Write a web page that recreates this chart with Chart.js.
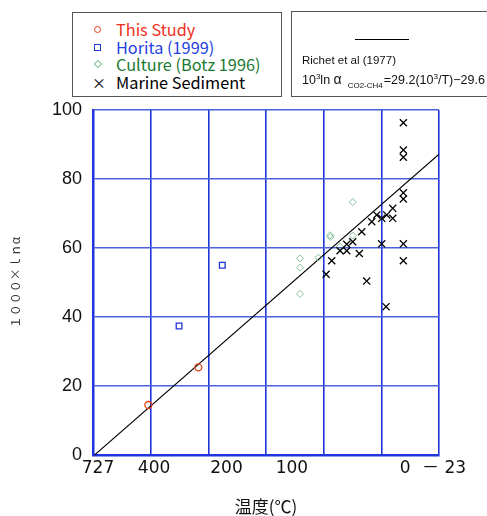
<!DOCTYPE html>
<html>
<head>
<meta charset="utf-8">
<script src="https://cdn.jsdelivr.net/npm/chart.js@4.4.1/dist/chart.umd.min.js"></script>
<style>
  html, body { margin: 0; padding: 0; background: #fff; }
  #wrap { position: relative; width: 487px; height: 516px; overflow: hidden; }
  #c { position: absolute; left: 0; top: 0; }
  .box { position: absolute; border: 1.5px solid #555; background: #fff; box-sizing: border-box; }
  #legA { left: 72px; top: 12px; width: 210px; height: 85px; font: 16.3px "Noto Sans CJK JP", sans-serif; }
  #legA .row { position: absolute; left: 0; height: 18px; line-height: 18px; white-space: nowrap; }
  #legA .mk { position: absolute; left: 21px; top: 6px; width: 7px; height: 7px; box-sizing: border-box; }
  #legA .tx { position: absolute; left: 43px; top: 0; }
  #legB { left: 291px; top: 11px; width: 210px; height: 86px; font: 11.5px "Liberation Sans", Arial, sans-serif; color: #111; }
  #legB .ln { position: absolute; left: 63px; top: 27px; width: 54px; border-top: 1.2px solid #000; }
  #legB .t1 { position: absolute; left: 10px; top: 42px; white-space: nowrap; }
  #legB .t2 { position: absolute; left: 10px; top: 59px; white-space: nowrap; font-size: 12.5px; }
  #legB .al { font-size: 14px; }
  #legB sup { font-size: 8px; vertical-align: 5px; }
  #legB sub { font-size: 8px; vertical-align: -4px; margin: 0 1px 0 6px; }
</style>
</head>
<body>
<div id="wrap">
  <canvas id="c" width="487" height="516"></canvas>
  <div id="legA" class="box"></div>
  <div id="legB" class="box">
    <div class="ln"></div>
    <div class="t1">Richet et al (1977)</div>
    <div class="t2">10<sup>3</sup>ln <span class="al">α</span><sub>CO2-CH4</sub>=29.2(10<sup>3</sup>/T)−29.6</div>
  </div>
</div>
<script>
// ---- data (x = 10^3/T, y = 1000 ln α) ----
const studyX = [1.480, 1.913];
const studyY = [14.5, 25.4];

const horitaX = [1.746, 2.121];
const horitaY = [37.4, 55.0];

const cultureX = [3.252, 3.055, 3.058, 3.252, 3.142, 2.954, 2.795, 2.795, 2.795];
const cultureY = [73.3, 63.7, 63.2, 63.6, 60.4, 57.2, 57.0, 54.3, 46.7];

const marineX = [3.691, 3.691, 3.691, 3.691, 3.691, 3.599, 3.460, 3.547, 3.504, 3.599, 3.417, 3.330,
                 3.252, 3.200, 3.503, 3.691, 3.142, 3.200, 3.309, 3.070, 3.691, 3.021, 3.373, 3.541];
const marineY = [96.3, 88.4, 86.3, 76.0, 74.2, 71.5, 69.6, 69.6, 68.6, 68.6, 67.6, 64.7,
                 61.8, 61.1, 61.2, 61.2, 59.2, 59.2, 58.4, 56.3, 56.3, 52.4, 50.4, 43.0];

// Richet et al (1977) line end points
const richetX = [1.0, 4.0];
const richetY = [-0.4, 87.2];

// axes
const gridX = [1.0, 1.5, 2.0, 2.5, 3.0, 3.5, 4.0];
const tempTicks = [727, 400, 200, 100, 0, -23];
const tempLabels = ['727', '400', '200', '100', '0', '－ 23'];
const yTicks = [0, 20, 40, 60, 80, 100];

const zip = (xs, ys) => xs.map((x, i) => ({ x, y: ys[i] }));
const near = (a, b) => Math.abs(a - b) < 1e-6;

const BLUE_V = '#1f35dc';
const BLUE_H = '#4a63dc';

const series = [
  { label: 'This Study',          xs: studyX,   ys: studyY,   style: 'circle',  color: '#e8401c', text: '#f0301a', r: 3.5 },
  { label: 'Horita (1999)',       xs: horitaX,  ys: horitaY,  style: 'rect',    color: '#1f35d8', text: '#1f3fe0', r: 4 },
  { label: 'Culture (Botz 1996)', xs: cultureX, ys: cultureY, style: 'rectRot', color: '#86c29a', text: '#1b7a32', r: 3.5 },
  { label: 'Marine Sediment',     xs: marineX,  ys: marineY,  style: 'crossRot',color: '#000000', text: '#000000', r: 5 },
];

// html legend built from the series list
const legA = document.getElementById('legA');
series.forEach((s, i) => {
  const row = document.createElement('div');
  row.className = 'row';
  row.style.top = (7 + i * 17.5) + 'px';
  const mk = document.createElement('span');
  mk.className = 'mk';
  if (s.style === 'circle') {
    mk.style.border = '1.5px solid ' + s.color; mk.style.borderRadius = '50%';
  } else if (s.style === 'rect') {
    mk.style.border = '1.5px solid ' + s.color;
  } else if (s.style === 'rectRot') {
    mk.style.border = '1px solid ' + s.color; mk.style.width = '6px'; mk.style.height = '6px';
    mk.style.transform = 'rotate(45deg)'; mk.style.left = '21.5px';
  } else {
    mk.textContent = '×'; mk.style.color = s.color; mk.style.top = '0'; mk.style.left = '19px';
    mk.style.width = 'auto'; mk.style.height = 'auto'; mk.style.fontSize = '14px';
  }
  const tx = document.createElement('span');
  tx.className = 'tx';
  tx.style.color = s.text;
  tx.textContent = s.label;
  row.appendChild(mk);
  row.appendChild(tx);
  legA.appendChild(row);
});

const datasets = series.map((s, i) => ({
  type: 'scatter',
  label: s.label,
  data: zip(s.xs, s.ys),
  pointStyle: s.style,
  pointRadius: s.r,
  pointHoverRadius: s.r,
  borderColor: s.color,
  backgroundColor: 'rgba(0,0,0,0)',
  borderWidth: s.style === 'rectRot' ? 1 : 1.3,
  order: 4 - i,
}));
datasets.push({
  type: 'line',
  label: 'Richet et al (1977)',
  data: zip(richetX, richetY),
  borderColor: '#000',
  borderWidth: 1.1,
  pointRadius: 0,
  fill: false,
  order: 10,
});

// x ticks: grid positions plus temperature labels (10^3/T with T = t + 273)
function buildXTicks() {
  const ticks = gridX.map(v => ({ value: v, grid: true, label: '' }));
  tempTicks.forEach((t, i) => {
    const v = 1000 / (t + 273);
    const hit = ticks.find(k => near(k.value, v));
    if (hit) hit.label = tempLabels[i];
    else ticks.push({ value: v, grid: false, label: tempLabels[i] });
  });
  return ticks.sort((a, b) => a.value - b.value);
}
const xTickInfo = buildXTicks();

new Chart(document.getElementById('c'), {
  data: { datasets },
  options: {
    responsive: false,
    animation: false,
    devicePixelRatio: 1,
    layout: { padding: { top: 110, right: 48, left: 0, bottom: 0 } },
    plugins: { legend: { display: false }, tooltip: { enabled: false } },
    scales: {
      x: {
        type: 'linear',
        min: 1, max: 4,
        afterBuildTicks: s => { s.ticks = xTickInfo.map(k => ({ value: k.value })); },
        afterFit: s => { s.height = 61; },
        grid: {
          drawTicks: false,
          lineWidth: 1.6,
          color: ctx => {
            const k = ctx.tick && xTickInfo.find(t => near(t.value, ctx.tick.value));
            return k && k.grid ? BLUE_V : 'rgba(0,0,0,0)';
          },
        },
        border: { color: BLUE_V, width: 2.5 },
        ticks: {
          autoSkip: false,
          maxRotation: 0,
          padding: 3,
          labelOffset: 5,
          color: '#111',
          font: { family: '"DejaVu Sans", "Noto Sans CJK JP", sans-serif', size: 17 },
          callback: v => { const k = xTickInfo.find(t => near(t.value, v)); return k ? k.label : ''; },
        },
        title: {
          display: true,
          text: '温度(℃)',
          color: '#111',
          font: { family: '"Noto Sans CJK JP", sans-serif', size: 17, lineHeight: 1 },
          padding: { top: 0, bottom: 1 },
        },
      },
      y: {
        type: 'linear',
        min: 0, max: 100,
        afterBuildTicks: s => { s.ticks = yTicks.map(v => ({ value: v })); },
        afterFit: s => { s.width = 93; },
        grid: { drawTicks: false, lineWidth: 1.6, color: BLUE_H },
        border: { color: BLUE_V, width: 2.5 },
        ticks: {
          padding: 11,
          color: '#111',
          font: { family: '"Liberation Sans Narrow", "Liberation Sans", Arial, sans-serif', size: 18 },
        },
        title: {
          display: true,
          text: '１０００×ｌｎα',
          color: '#333',
          font: { family: '"Noto Sans CJK JP", sans-serif', size: 12, lineHeight: 1.2 },
          padding: { top: 8, bottom: 0 },
        },
      },
    },
  },
});
</script>
</body>
</html>
